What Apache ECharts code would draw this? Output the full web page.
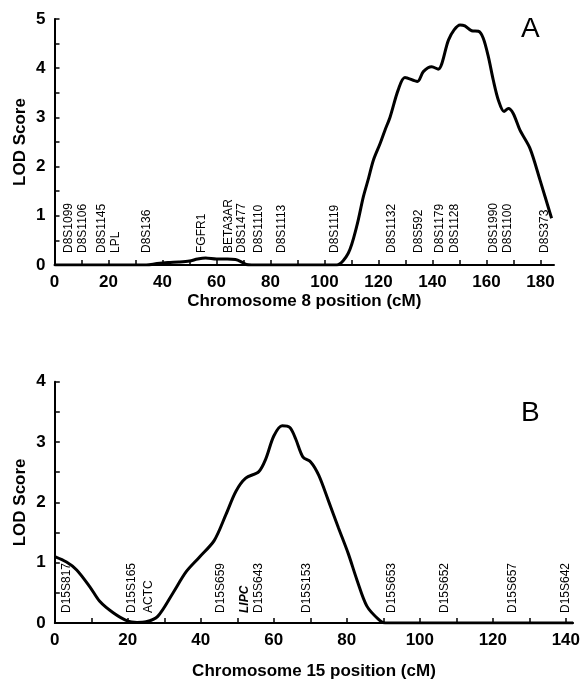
<!DOCTYPE html>
<html>
<head>
<meta charset="utf-8">
<script src="https://cdn.jsdelivr.net/npm/echarts@6/dist/echarts.min.js"></script>
<style>
html,body{margin:0;padding:0;background:#fff;}
#c{width:583px;height:681px;}
</style>
</head>
<body>
<div id="c"></div>
<script>
// ---- Panel A: chromosome 8 ----
const posA = [0,10,20,30,34,38,42,46,50,53,56,60,64,67,69,71,73,80,90,100,104.5,108.8,111.9,114.4,116.3,118.1,120.6,122.4,124.3,127.3,129.8,134.4,136.6,139.7,142.1,145.9,148,150.2,152,154.5,157,158.8,160.7,162.5,164.4,166.5,168.1,169.9,172.4,176.1,179.8,184.1];
const lodA = [0,0,0,0,0,0.03,0.05,0.06,0.08,0.12,0.14,0.12,0.12,0.11,0.07,0.01,0,0,0,0,0,0.24,0.78,1.39,1.76,2.13,2.47,2.74,3.01,3.56,3.81,3.73,3.93,4.03,3.98,4.57,4.78,4.88,4.86,4.76,4.75,4.61,4.23,3.76,3.35,3.12,3.18,3.08,2.74,2.37,1.73,0.95];
const markerNamesA = ['D8S1099','D8S1106','D8S1145','LPL','D8S136','FGFR1','BETA3AR','D8S1477','D8S1110','D8S1113','D8S1119','D8S1132','D8S592','D8S1179','D8S1128','D8S1990','D8S1100','D8S373'];
const markerPosA = [5.1,10.3,17.5,22.7,34.1,54.5,64.6,69.3,75.5,84.1,103.9,125,134.7,142.5,148.3,162.8,168,181.7];
const xTicksA = [0,10,20,30,40,50,60,70,80,90,100,110,120,130,140,150,160,170,180];
const xLabelsA = [0,20,40,60,80,100,120,140,160,180];
const yTicksA = [0,0.5,1,1.5,2,2.5,3,3.5,4,4.5,5];
const yLabelsA = [0,1,2,3,4,5];

// ---- Panel B: chromosome 15 ----
const posB = [0,3.2,6,9.6,12.3,16,20,22.5,25,28.2,32.3,36,39.6,43.7,46.9,49.6,52.3,55.9,57.8,60,62.3,64.4,66,68,70.1,72.3,75,77.7,80.4,82.8,85.5,88.7,90.5,100,110,120,130,142];
const lodB = [1.10,1.01,0.88,0.60,0.36,0.17,0.03,0.01,0.02,0.11,0.49,0.85,1.09,1.37,1.80,2.18,2.40,2.51,2.72,3.10,3.27,3.24,3.05,2.75,2.67,2.45,2.02,1.58,1.15,0.71,0.28,0.06,0,0,0,0,0,0];
const markerNamesB = ['D15S817','D15S165','ACTC','D15S659','LIPC','D15S643','D15S153','D15S653','D15S652','D15S657','D15S642'];
const markerPosB = [3.2,21.2,25.8,45.5,52.1,55.8,69.1,92.3,106.9,125.5,140];
const xTicksB = [0,10,20,30,40,50,60,70,80,90,100,110,120,130,140];
const xLabelsB = [0,20,40,60,80,100,120,140];
const yTicksB = [0,0.5,1,1.5,2,2.5,3,3.5,4];
const yLabelsB = [0,1,2,3,4];

const FONT = "'Liberation Sans', Arial, Helvetica, sans-serif";
const zip = (a, b) => a.map((v, i) => [v, b[i]]);

function xAxisCfg(grid, max, ticks, labels, name, gap) {
  return {
    type: 'value', gridIndex: grid, min: 0, max: max,
    name: name, nameLocation: 'middle', nameGap: gap,
    nameTextStyle: {fontFamily: FONT, fontWeight: 'bold', fontSize: 17, color: '#000'},
    axisLine: {show: true, onZero: false, lineStyle: {color: '#000', width: 2}},
    axisTick: {show: true, inside: true, length: 5, customValues: ticks, lineStyle: {color: '#000', width: 1.5}},
    axisLabel: {customValues: labels, fontFamily: FONT, fontWeight: 'bold', fontSize: 17, color: '#000', margin: 9},
    splitLine: {show: false}
  };
}
function yAxisCfg(grid, max, ticks, labels, gap) {
  return {
    type: 'value', gridIndex: grid, min: 0, max: max,
    name: 'LOD Score', nameLocation: 'middle', nameGap: gap, nameRotate: 90, nameMoveOverlap: false,
    nameTextStyle: {fontFamily: FONT, fontWeight: 'bold', fontSize: 17, color: '#000'},
    axisLine: {show: true, lineStyle: {color: '#000', width: 2}},
    axisTick: {show: true, inside: true, length: 5, customValues: ticks, lineStyle: {color: '#000', width: 1.5}},
    axisLabel: {customValues: labels, fontFamily: FONT, fontWeight: 'bold', fontSize: 17, color: '#000', margin: 9},
    splitLine: {show: false}
  };
}
function markerSeries(grid, names, pos, lift) {
  return {
    type: 'custom', xAxisIndex: grid, yAxisIndex: grid, silent: true, clip: false, z: 1,
    data: pos.map(p => [p, 0]),
    encode: {x: 0, y: 1},
    renderItem: function (params, api) {
      const pt = api.coord([api.value(0), 0]);
      const nm = names[params.dataIndex];
      const isGene = nm === 'LIPC';
      return {
        type: 'text', x: pt[0], y: pt[1] - lift, rotation: Math.PI / 2,
        style: {
          text: nm, align: 'left', verticalAlign: 'middle', fill: '#000',
          font: (isGene ? 'italic bold ' : '') + '12px ' + FONT
        }
      };
    }
  };
}

const chart = echarts.init(document.getElementById('c'), null, {renderer: 'canvas'});
chart.setOption({
  backgroundColor: '#fff',
  animation: false,
  title: [
    {text: 'A', left: 516, top: 10, textStyle: {fontFamily: FONT, fontWeight: 'normal', fontSize: 28, color: '#000'}},
    {text: 'B', left: 516, top: 394, textStyle: {fontFamily: FONT, fontWeight: 'normal', fontSize: 28, color: '#000'}}
  ],
  grid: [
    {left: 54.5, top: 19, width: 499.5, height: 246},
    {left: 54.8, top: 381.7, width: 520.7, height: 245.3}
  ],
  xAxis: [
    xAxisCfg(0, 185, xTicksA, xLabelsA, 'Chromosome 8 position (cM)', 28),
    xAxisCfg(1, 142, xTicksB, xLabelsB, 'Chromosome 15 position (cM)', 40)
  ],
  yAxis: [
    yAxisCfg(0, 5, yTicksA, yLabelsA, 26),
    yAxisCfg(1, 4, yTicksB, yLabelsB, 26)
  ],
  series: [
    {type: 'line', xAxisIndex: 0, yAxisIndex: 0, data: zip(posA, lodA), showSymbol: false, smooth: 0.3,
     lineStyle: {color: '#000', width: 3}, z: 3},
    {type: 'line', xAxisIndex: 1, yAxisIndex: 1, data: zip(posB, lodB), showSymbol: false, smooth: 0.3,
     lineStyle: {color: '#000', width: 3}, z: 3},
    markerSeries(0, markerNamesA, markerPosA, 12),
    markerSeries(1, markerNamesB, markerPosB, 10)
  ]
});
</script>
</body>
</html>
